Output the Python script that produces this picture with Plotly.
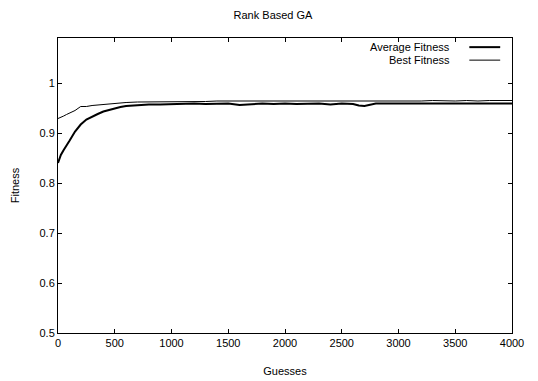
import plotly.graph_objects as go

guesses = [0, 25, 50, 75, 100, 150, 200, 250, 300, 350, 400, 450, 500, 550, 600, 700, 800, 900, 1000,
           1100, 1200, 1300, 1400, 1500, 1600, 1700, 1800, 1900, 2000, 2100, 2200, 2300, 2400, 2500,
           2600, 2650, 2700, 2750, 2800, 2900, 3000, 3100, 3200, 3300, 3400, 3500, 3600, 3700, 3800, 3900, 4000]
average_fitness = [0.840, 0.856, 0.866, 0.874, 0.884, 0.903, 0.917, 0.927, 0.933, 0.938, 0.943, 0.946, 0.950, 0.952, 0.954, 0.956, 0.957, 0.957, 0.958,
                   0.959, 0.959, 0.958, 0.959, 0.959, 0.956, 0.958, 0.959, 0.958, 0.959, 0.958, 0.959, 0.959, 0.957, 0.959,
                   0.958, 0.955, 0.954, 0.957, 0.959, 0.959, 0.959, 0.958, 0.959, 0.958, 0.959, 0.959, 0.958, 0.959, 0.958, 0.959, 0.959]
best_fitness = [0.929, 0.931, 0.934, 0.937, 0.940, 0.945, 0.953, 0.953, 0.955, 0.956, 0.957, 0.958, 0.960, 0.961, 0.961, 0.962, 0.962, 0.962, 0.963,
                0.963, 0.963, 0.963, 0.964, 0.964, 0.963, 0.964, 0.964, 0.963, 0.964, 0.964, 0.964, 0.964, 0.963, 0.964,
                0.964, 0.964, 0.963, 0.964, 0.964, 0.964, 0.964, 0.964, 0.964, 0.965, 0.964, 0.964, 0.965, 0.964, 0.965, 0.965, 0.965]

x_ticks = [0, 500, 1000, 1500, 2000, 2500, 3000, 3500, 4000]
y_ticks = [0.5, 0.6, 0.7, 0.8, 0.9, 1.0]
y_tick_labels = ["0.5", "0.6", "0.7", "0.8", "0.9", "1"]
series_names = ["Average Fitness", "Best Fitness"]

font = "Liberation Sans, Arial, sans-serif"

fig = go.Figure()
fig.add_trace(go.Scatter(x=guesses, y=average_fitness, mode="lines", name=series_names[0],
                         line=dict(color="black", width=2), showlegend=False))
fig.add_trace(go.Scatter(x=guesses, y=best_fitness, mode="lines", name=series_names[1],
                         line=dict(color="black", width=1), showlegend=False))

# gnuplot-style key: text right-aligned, line sample to the right
for i, (name, w) in enumerate(zip(series_names, [2, 1])):
    yp = 0.969 - i * 0.044
    fig.add_annotation(x=0.868, y=yp, xref="paper", yref="paper", text=name, showarrow=False,
                       xanchor="right", yanchor="middle", font=dict(family=font, size=11, color="black"))
    fig.add_shape(type="line", xref="paper", yref="paper", x0=0.906, x1=0.974, y0=yp, y1=yp,
                  line=dict(color="black", width=w))

axis_common = dict(showline=True, linecolor="black", linewidth=1, mirror="ticks", ticks="inside",
                   ticklen=4, tickcolor="black", showgrid=False, zeroline=False, automargin=False,
                   tickfont=dict(family=font, size=11, color="black"))

fig.update_xaxes(range=[0, 4000], tickvals=x_ticks, ticktext=[str(v) for v in x_ticks],
                 title=dict(text="Guesses", font=dict(family=font, size=11, color="black"), standoff=19),
                 **axis_common)
fig.update_yaxes(range=[0.5, 1.09], tickvals=y_ticks, ticktext=y_tick_labels,
                 title=dict(text="Fitness", font=dict(family=font, size=11, color="black"), standoff=17),
                 **axis_common)

fig.update_layout(
    width=530, height=373,
    margin=dict(l=50, r=26, t=30, b=48),
    paper_bgcolor="white", plot_bgcolor="white",
    title=dict(text="Rank Based GA", x=0.5, xanchor="center", y=0.981, yanchor="middle",
               font=dict(family=font, size=11, color="black")),
)

fig.write_html("out.html")
